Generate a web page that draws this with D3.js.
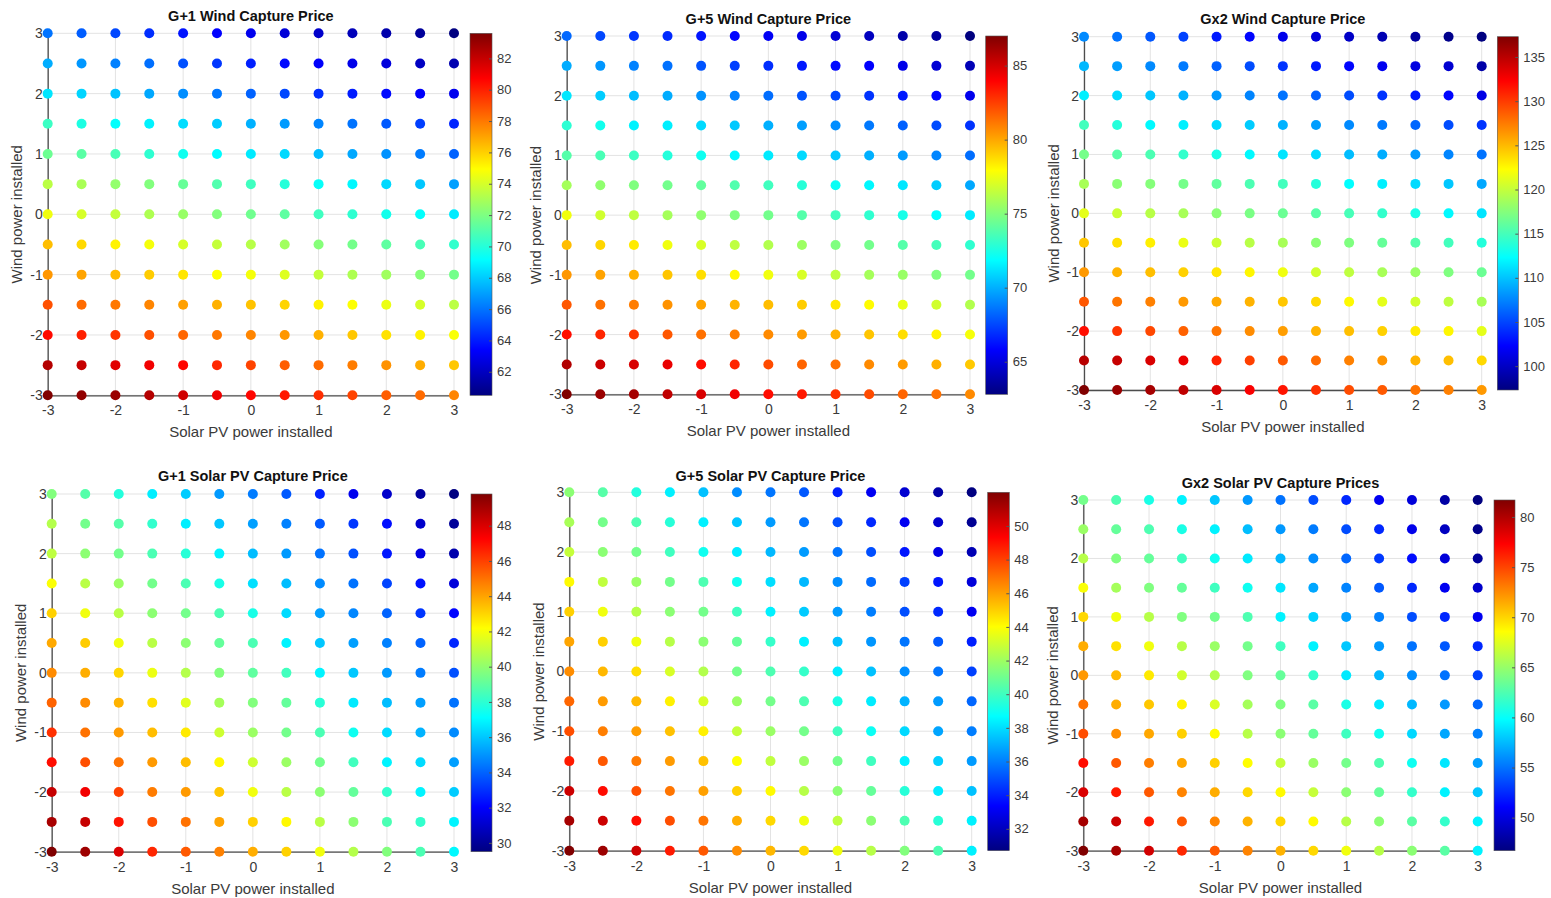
<!DOCTYPE html>
<html>
<head>
<meta charset="utf-8">
<script src="https://cdn.jsdelivr.net/npm/d3@7"></script>
<style>
  body { margin: 0; background: #ffffff; }
  svg { display: block; font-family: "Liberation Sans", Arial, Helvetica, sans-serif; }
</style>
</head>
<body>
<svg id="chart" width="1551" height="898"></svg>
<script>
// ---- scenario grid (installed capacity change, both axes) ----
const solarLevels = [-3, -2.5, -2, -1.5, -1, -0.5, 0, 0.5, 1, 1.5, 2, 2.5, 3];
// rows of every price grid run from wind = 3 (top) down to wind = -3
const windLevels = [3, 2.5, 2, 1.5, 1, 0.5, 0, -0.5, -1, -1.5, -2, -2.5, -3];
const axisTicks = [-3, -2, -1, 0, 1, 2, 3];

const panelTitles = [
  "G+1 Wind Capture Price", "G+5 Wind Capture Price", "Gx2 Wind Capture Price",
  "G+1 Solar PV Capture Price", "G+5 Solar PV Capture Price", "Gx2 Solar PV Capture Prices"
];

// ---- capture prices, one row per wind level ----
const g1Wind = [
  [66.0,65.5,65.0,64.4,63.8,63.4,63.0,62.5,62.2,61.8,61.5,61.1,60.5],
  [67.3,66.8,66.3,65.9,65.2,64.6,64.1,63.6,63.3,62.9,62.6,62.0,61.6],
  [68.6,68.2,67.8,67.2,66.6,66.1,65.6,65.0,64.4,64.0,63.6,63.3,63.0],
  [70.5,69.8,69.2,68.9,68.4,68.0,67.4,66.9,66.4,66.0,65.4,64.8,64.2],
  [71.6,71.2,70.8,70.2,69.5,69.1,68.7,68.3,67.7,67.2,66.7,66.2,65.6],
  [73.4,73.0,72.5,72.1,71.5,71.0,70.6,70.0,69.3,69.0,68.3,67.9,67.0],
  [74.6,74.0,73.6,73.1,72.6,72.1,71.7,71.3,70.6,70.2,69.6,69.2,68.7],
  [76.4,75.8,75.2,74.7,74.0,73.6,73.3,72.8,72.2,71.8,71.3,70.8,70.3],
  [77.3,77.0,76.5,76.1,75.5,74.9,74.7,74.2,73.6,73.1,72.8,72.2,71.8],
  [78.9,78.3,78.0,77.7,77.1,76.7,76.3,75.9,75.2,74.9,74.5,74.0,73.4],
  [80.5,80.0,79.5,78.9,78.4,78.0,77.7,77.3,76.7,76.2,75.6,75.2,74.8],
  [82.4,82.0,81.4,81.0,80.6,79.8,79.2,78.6,78.3,77.9,77.4,76.8,76.2],
  [83.6,83.2,83.0,82.4,81.8,81.1,80.6,80.2,79.7,79.2,78.6,78.3,77.7]
];
const g5Wind = [
  [68.3,67.5,67.1,66.8,66.3,65.9,65.6,65.3,64.8,64.3,63.8,63.5,62.8],
  [69.9,69.4,68.9,68.5,67.8,67.3,66.9,66.4,66.0,65.8,65.3,64.8,64.1],
  [71.3,70.7,70.3,69.9,69.3,68.9,68.4,67.8,67.5,67.0,66.4,66.0,65.4],
  [72.9,72.3,71.6,71.5,71.0,70.6,70.0,69.6,69.2,68.7,68.1,67.6,67.0],
  [73.9,73.6,73.3,72.7,72.2,71.7,71.4,71.0,70.6,70.0,69.5,69.0,68.4],
  [75.8,75.3,74.9,74.6,74.2,73.8,73.4,72.8,72.1,71.7,71.3,70.7,69.8],
  [77.6,76.8,76.4,75.8,75.3,74.9,74.6,73.9,73.4,73.0,72.4,71.9,71.4],
  [79.5,78.9,78.4,77.6,77.0,76.4,76.1,75.6,74.9,74.6,73.9,73.5,73.0],
  [80.4,80.1,79.8,79.3,78.7,78.1,77.6,77.0,76.4,75.8,75.5,74.9,74.6],
  [81.9,81.3,81.0,80.5,80.1,79.7,79.5,79.1,78.5,78.0,77.4,76.8,76.1],
  [83.7,83.1,82.7,81.9,81.3,81.0,80.7,80.3,79.8,79.3,78.7,78.2,77.7],
  [85.8,85.2,84.9,84.5,83.7,83.1,82.2,81.6,81.3,80.7,80.3,79.8,79.2],
  [87.0,86.4,86.1,85.5,84.9,84.3,83.7,83.4,82.8,82.2,81.6,81.3,80.7]
];
const gx2Wind = [
  [107.7,106.8,105.7,104.9,103.3,102.5,101.5,100.8,100.1,99.3,98.5,97.8,97.3],
  [109.5,108.5,107.7,107.1,106.1,105.3,104.3,103.3,102.5,101.7,101.1,100.5,98.9],
  [111.7,110.9,110.1,109.3,108.3,107.5,106.8,106.1,105.3,104.3,103.3,102.5,101.3],
  [114.9,113.7,112.1,111.7,110.9,110.3,109.3,108.5,107.7,107.1,106.3,105.3,104.3],
  [116.9,115.7,115.3,114.3,113.3,112.1,111.3,110.9,109.7,109.1,108.3,107.5,106.8],
  [118.9,117.7,117.5,116.9,116.1,115.3,114.9,113.7,112.3,111.7,110.9,110.1,108.9],
  [121.3,120.3,119.5,118.9,117.7,117.1,116.5,115.7,115.1,114.3,113.3,112.1,111.3],
  [124.5,123.5,122.9,121.5,120.3,119.5,118.9,117.7,117.3,116.3,115.5,114.9,113.7],
  [126.3,125.3,124.8,124.1,123.3,122.6,121.7,120.5,119.8,118.9,118.3,117.3,116.5],
  [128.9,127.7,127.3,126.3,125.7,125.3,124.5,123.8,122.5,121.3,120.5,119.8,118.9],
  [131.8,130.3,129.5,128.5,127.7,126.8,126.1,125.3,124.8,124.1,123.1,122.6,121.3],
  [135.1,134.5,133.8,133.1,131.1,129.8,128.8,128.1,127.3,126.5,125.3,124.8,123.8],
  [137.3,136.3,135.8,134.8,133.8,132.5,131.5,130.5,129.3,128.8,127.8,127.3,126.3]
];
const g1Solar = [
  [39.7,38.8,37.8,36.8,36.1,35.1,34.5,33.8,32.7,31.7,31.0,30.1,29.5],
  [40.7,39.4,38.8,38.1,36.8,36.0,35.2,34.6,33.8,33.1,32.3,31.0,30.0],
  [40.9,39.9,39.4,38.6,37.9,36.9,35.8,35.1,34.3,33.6,32.5,31.4,30.4],
  [42.1,40.8,40.2,39.4,38.6,37.6,36.5,35.8,34.8,34.3,33.4,32.4,31.3],
  [43.1,41.9,40.8,39.9,39.4,38.6,37.6,36.4,35.2,34.7,34.0,33.1,32.1],
  [43.9,43.2,41.9,40.8,39.9,39.1,38.6,36.9,36.0,35.2,34.6,34.0,32.8],
  [44.5,43.8,43.0,41.8,40.7,39.7,39.0,38.4,36.9,36.0,35.1,34.5,33.6],
  [45.3,44.5,43.7,42.8,41.6,40.4,39.7,39.1,37.9,36.7,35.8,35.2,34.3],
  [46.3,45.0,44.2,43.5,42.6,41.2,40.2,39.4,38.6,37.4,36.4,35.6,34.8],
  [47.0,45.7,45.0,44.2,43.5,42.3,41.2,40.2,39.4,38.4,36.9,36.4,35.2],
  [48.4,47.5,46.0,44.8,44.2,43.3,41.9,40.8,39.9,39.1,38.1,36.9,36.1],
  [49.0,48.4,46.9,45.7,45.0,44.0,43.1,42.3,40.8,39.9,38.6,38.1,36.9],
  [49.8,49.2,48.0,46.5,45.5,44.7,43.8,43.1,41.9,40.7,39.7,38.6,37.0]
];
const g5Solar = [
  [41.6,40.5,39.4,38.4,37.4,36.3,35.8,35.2,34.0,33.1,32.4,31.5,30.7],
  [42.2,41.1,40.3,39.5,38.4,37.5,36.6,35.8,35.0,34.2,33.1,32.3,31.1],
  [42.8,41.6,41.1,40.0,39.0,38.3,37.2,36.6,35.8,35.0,33.8,32.8,31.8],
  [44.1,42.7,41.9,41.1,40.3,39.0,38.0,37.2,36.3,35.6,34.7,33.8,32.6],
  [45.0,43.7,42.5,41.6,41.1,40.0,38.4,37.6,36.6,36.0,35.0,34.2,33.1],
  [45.9,45.0,43.7,42.5,41.6,40.8,39.8,38.4,37.4,36.5,35.8,35.2,34.0],
  [46.4,45.5,44.7,43.2,42.4,41.1,40.3,39.8,38.3,37.4,36.3,35.8,34.7],
  [47.2,46.1,45.5,44.3,43.2,41.9,41.1,40.3,39.2,38.3,37.1,36.6,35.5],
  [47.7,46.7,46.1,45.3,44.3,42.8,41.9,41.1,40.0,38.9,37.9,36.8,36.0],
  [48.8,47.5,46.8,46.1,45.3,44.0,42.7,41.9,41.1,40.0,38.4,37.7,36.6],
  [50.4,49.1,47.7,46.9,46.0,45.0,44.1,42.5,41.6,40.8,39.5,38.3,37.4],
  [51.2,50.4,49.1,47.7,46.9,45.7,44.8,43.7,42.7,41.6,40.3,39.5,38.4],
  [52.0,51.4,50.4,48.8,47.5,46.4,45.5,44.8,43.7,42.5,41.4,40.3,38.4]
];
const gx2Solar = [
  [63.8,62.5,60.7,59.4,57.9,56.3,55.0,53.7,52.4,50.6,49.8,48.0,46.7],
  [65.1,63.3,62.5,60.7,59.4,57.6,56.3,55.3,53.7,52.4,50.4,48.9,47.1],
  [66.1,64.2,63.3,62.0,60.3,59.1,57.4,55.9,54.6,53.0,51.5,49.8,47.6],
  [68.4,65.5,64.2,63.3,62.0,60.3,59.0,56.8,55.6,54.1,52.4,50.6,49.3],
  [69.9,68.1,66.1,64.2,63.8,62.5,59.4,58.3,56.5,55.5,53.7,52.4,50.6],
  [71.4,69.6,68.1,66.1,65.1,63.8,62.0,59.4,57.9,56.3,55.0,54.1,52.4],
  [72.1,71.0,69.3,67.0,66.0,64.2,63.3,61.6,59.1,57.4,55.9,55.0,53.3],
  [73.4,71.4,70.5,69.0,67.3,65.5,64.2,62.9,60.7,59.1,57.4,56.3,54.6],
  [74.7,72.5,71.6,70.2,68.7,66.1,64.6,63.3,62.0,60.3,58.5,56.8,55.5],
  [76.9,74.3,73.0,71.6,70.2,68.6,66.6,65.1,63.8,62.5,60.3,59.0,56.5],
  [78.6,76.5,74.3,72.8,71.4,69.9,68.7,66.6,64.6,63.3,61.6,59.4,57.9],
  [80.4,79.1,76.5,74.3,72.8,71.2,69.9,68.7,66.1,64.6,62.9,61.6,59.4],
  [81.7,80.4,78.9,76.0,74.3,72.8,71.2,69.9,68.1,66.1,64.6,62.9,59.4]
];

// colour bar tick labels per panel
const g1WindTicks = [62, 64, 66, 68, 70, 72, 74, 76, 78, 80, 82];
const g5WindTicks = [65, 70, 75, 80, 85];
const gx2WindTicks = [100, 105, 110, 115, 120, 125, 130, 135];
const g1SolarTicks = [30, 32, 34, 36, 38, 40, 42, 44, 46, 48];
const g5SolarTicks = [32, 34, 36, 38, 40, 42, 44, 46, 48, 50];
const gx2SolarTicks = [50, 55, 60, 65, 70, 75, 80];

// ---- page layout (pixel frames of each axes box and its colour bar) ----
const frames = [
  { left: 47.7,  right: 454,    top: 33.3, bottom: 395.3, cbLeft: 470,    cbRight: 492,    titleY: 16 },
  { left: 566.7, right: 970,    top: 36,   bottom: 394.3, cbLeft: 985.7,  cbRight: 1007.7, titleY: 18.5 },
  { left: 1084,  right: 1481.7, top: 36.7, bottom: 390,   cbLeft: 1497.3, cbRight: 1518.3, titleY: 19 },
  { left: 51.7,  right: 454,    top: 494,  bottom: 851.7, cbLeft: 471,    cbRight: 492,    titleY: 475.7 },
  { left: 569.3, right: 971.7,  top: 492.3,bottom: 850.7, cbLeft: 987.7,  cbRight: 1009.3, titleY: 475.7 },
  { left: 1083.3,right: 1477.7, top: 500,  bottom: 850.7, cbLeft: 1494,   cbRight: 1515,   titleY: 483.3 }
];

const panels = [
  { title: panelTitles[0], values: g1Wind,   ticks: g1WindTicks },
  { title: panelTitles[1], values: g5Wind,   ticks: g5WindTicks },
  { title: panelTitles[2], values: gx2Wind,  ticks: gx2WindTicks },
  { title: panelTitles[3], values: g1Solar,  ticks: g1SolarTicks },
  { title: panelTitles[4], values: g5Solar,  ticks: g5SolarTicks },
  { title: panelTitles[5], values: gx2Solar, ticks: gx2SolarTicks }
];

// MATLAB-style "jet" colour map
function jet(t) {
  const c = v => Math.max(0, Math.min(1, v));
  const r = c(1.5 - Math.abs(4 * t - 3));
  const g = c(1.5 - Math.abs(4 * t - 2));
  const b = c(1.5 - Math.abs(4 * t - 1));
  return d3.rgb(r * 255, g * 255, b * 255).formatHex();
}

const svg = d3.select("#chart");
const defs = svg.append("defs");

// shared vertical gradient for the colour bars
const grad = defs.append("linearGradient")
  .attr("id", "jetGrad").attr("x1", 0).attr("y1", 1).attr("x2", 0).attr("y2", 0);
d3.range(0, 65).forEach(i => {
  const t = i / 64;
  grad.append("stop").attr("offset", t).attr("stop-color", jet(t));
});

const axisColor = "#4d4d4d";
const textColor = "#3a3a3a";
const gridColor = "#e3e3e3";

panels.forEach((p, i) => {
  const f = frames[i];
  const g = svg.append("g");

  const x = d3.scaleLinear().domain([-3, 3]).range([f.left, f.right]);
  const y = d3.scaleLinear().domain([-3, 3]).range([f.bottom, f.top]);

  const cells = [];
  p.values.forEach((row, r) => row.forEach((v, c) => {
    cells.push({ solar: solarLevels[c], wind: windLevels[r], price: v });
  }));
  const extent = d3.extent(cells, d => d.price);
  const color = d3.scaleSequential(jet).domain(extent);

  // grid
  const grid = g.append("g");
  grid.selectAll("line.v").data(axisTicks).join("line")
    .attr("x1", d => x(d)).attr("x2", d => x(d))
    .attr("y1", f.bottom).attr("y2", f.top)
    .attr("stroke", gridColor).attr("stroke-width", 1);
  grid.selectAll("line.h").data(axisTicks).join("line")
    .attr("y1", d => y(d)).attr("y2", d => y(d))
    .attr("x1", f.left).attr("x2", f.right)
    .attr("stroke", gridColor).attr("stroke-width", 1);

  // axes
  const xAxis = g.append("g").attr("transform", `translate(0,${f.bottom})`)
    .call(d3.axisBottom(x).tickValues(axisTicks).tickSize(0).tickPadding(10).tickFormat(d3.format("d")));
  const yAxis = g.append("g").attr("transform", `translate(${f.left},0)`)
    .call(d3.axisLeft(y).tickValues(axisTicks).tickSize(0).tickPadding(5).tickFormat(d3.format("d")));
  [xAxis, yAxis].forEach(a => {
    a.select(".domain").attr("stroke", axisColor).attr("stroke-width", 1.3);
    a.selectAll("text").attr("fill", textColor).style("font-size", "14px")
      .style("font-family", "'Liberation Sans', Arial, sans-serif");
  });
  xAxis.selectAll("text").text(d => d < 0 ? "-" + Math.abs(d) : d);
  yAxis.selectAll("text").text(d => d < 0 ? "-" + Math.abs(d) : d);

  // scenario points
  g.append("g").selectAll("circle").data(cells).join("circle")
    .attr("cx", d => x(d.solar)).attr("cy", d => y(d.wind))
    .attr("r", 5)
    .attr("fill", d => color(d.price));

  // title and axis labels
  g.append("text")
    .attr("x", (f.left + f.right) / 2).attr("y", f.titleY)
    .attr("text-anchor", "middle").attr("dominant-baseline", "central")
    .style("font-size", "14.5px").style("font-weight", "bold").attr("fill", "#111")
    .text(p.title);
  g.append("text")
    .attr("x", (f.left + f.right) / 2).attr("y", f.bottom + 36.5)
    .attr("text-anchor", "middle").attr("dominant-baseline", "central")
    .style("font-size", "15px").attr("fill", textColor)
    .text("Solar PV power installed");
  g.append("text")
    .attr("transform", `translate(${f.left - 31},${(f.top + f.bottom) / 2}) rotate(-90)`)
    .attr("text-anchor", "middle").attr("dominant-baseline", "central")
    .style("font-size", "15px").attr("fill", textColor)
    .text("Wind power installed");

  // colour bar
  const cb = d3.scaleLinear().domain(extent).range([f.bottom, f.top]);
  g.append("rect")
    .attr("x", f.cbLeft).attr("y", f.top)
    .attr("width", f.cbRight - f.cbLeft).attr("height", f.bottom - f.top)
    .attr("fill", "url(#jetGrad)")
    .attr("stroke", "#555").attr("stroke-width", 0.6);
  const cbAxis = g.append("g").attr("transform", `translate(${f.cbRight},0)`)
    .call(d3.axisRight(cb).tickValues(p.ticks).tickSizeInner(-3).tickSizeOuter(0).tickPadding(5));
  cbAxis.select(".domain").remove();
  cbAxis.selectAll("line").attr("stroke", "#555");
  cbAxis.selectAll("text").attr("fill", textColor).style("font-size", "13px")
    .style("font-family", "'Liberation Sans', Arial, sans-serif");
});
</script>
</body>
</html>
